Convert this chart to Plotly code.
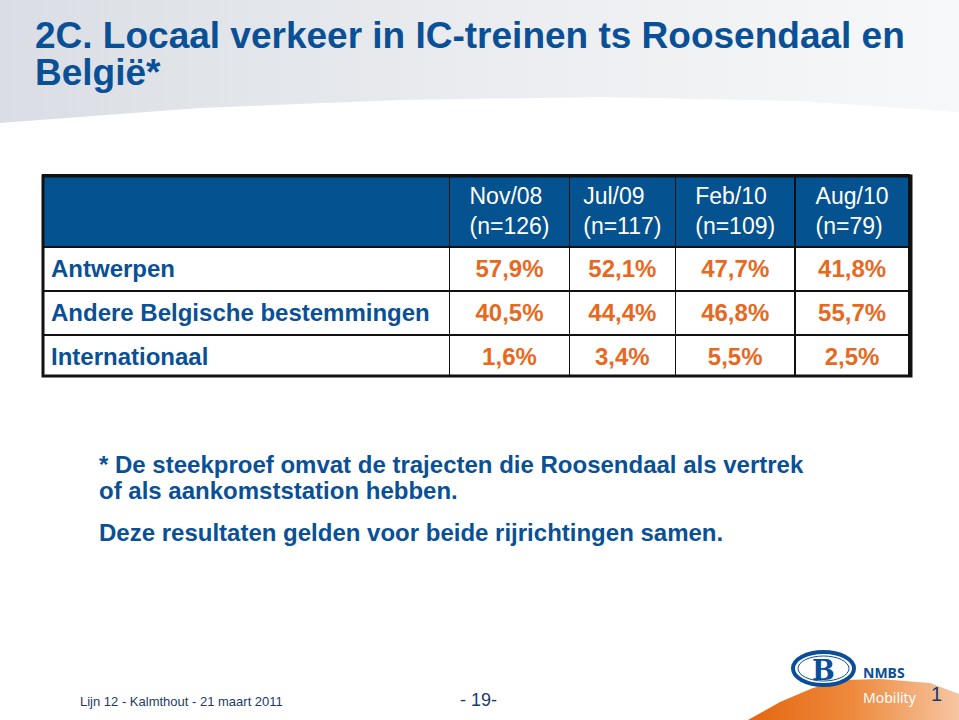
import plotly.graph_objects as go

# table data
destinations = ["Antwerpen", "Andere Belgische bestemmingen", "Internationaal"]
periods = ["Nov/08", "Jul/09", "Feb/10", "Aug/10"]
sample_n = [126, 117, 109, 79]
nov08 = [57.9, 40.5, 1.6]
jul09 = [52.1, 44.4, 3.4]
feb10 = [47.7, 46.8, 5.5]
aug10 = [41.8, 55.7, 2.5]

title_lines = ["2C. Locaal verkeer in IC-treinen ts Roosendaal en", "België*"]
note_lines = ["* De steekproef omvat de trajecten die Roosendaal als vertrek",
              "of als aankomststation hebben.",
              "Deze resultaten gelden voor beide rijrichtingen samen."]
footer_left = "Lijn 12 - Kalmthout - 21 maart 2011"
page_no = "- 19-"

BLUE = "#0A5096"
HEAD = "#04528F"
ORANGE = "#E8691E"
W, H = 959, 720


def pct(v):
    return "<b>" + f"{v:.1f}".replace(".", ",") + "%</b>"


header_vals = [""] + [f"{p}<br>(n={n})" for p, n in zip(periods, sample_n)]
cell_vals = [["<b>" + d + "</b>" for d in destinations]] + \
    [[pct(v) for v in col] for col in (nov08, jul09, feb10, aug10)]

fig = go.Figure()

# grey band at the top of the slide
band_x = [0, 959, 959, 800, 600, 400, 200, 0]
band_y = [0, 0, 112, 101, 97, 100, 108, 123]
fig.add_trace(go.Scatter(
    x=band_x, y=band_y, mode="lines", fill="toself", line=dict(width=0),
    fillgradient=dict(type="horizontal",
                      colorscale=[[0, "#dadee4"], [0.5, "#eaecef"], [1, "#f7f8f9"]]),
    hoverinfo="skip", showlegend=False))

# orange swoosh bottom right
sw_x = [748, 780, 813, 847, 880, 930, 959, 959]
sw_y = [720, 702, 688, 680, 679, 683, 694, 720]
fig.add_trace(go.Scatter(
    x=sw_x, y=sw_y, mode="lines", fill="toself", line=dict(width=0),
    fillgradient=dict(type="horizontal",
                      colorscale=[[0, "#E4660F"], [0.5, "#EE8A3E"], [1, "#F6C6A2"]]),
    hoverinfo="skip", showlegend=False))

fig.add_trace(go.Table(
    domain=dict(x=[43 / W, 910 / W], y=[1 - 376 / H, 1 - 175 / H]),
    columnwidth=[407, 120, 106, 120, 114],
    header=dict(values=header_vals, fill_color=HEAD, height=67,
                align="center", line=dict(color="#111111", width=1.5),
                font=dict(family="Liberation Sans", size=23, color="white")),
    cells=dict(values=cell_vals, fill_color="white", height=44,
               align=["left", "center", "center", "center", "center"],
               line=dict(color="#111111", width=1.5),
               font=dict(family="Liberation Sans", size=24,
                         color=[BLUE, ORANGE, ORANGE, ORANGE, ORANGE])),
))

shapes = [
    dict(type="rect", xref="x", yref="y", x0=43, x1=911, y0=176, y1=376,
         line=dict(color="#111111", width=3)),
    # NMBS logo oval
    dict(type="circle", xref="x", yref="y", x0=793, x1=854, y0=652, y1=685,
         fillcolor="white", line=dict(color="#0A4E9A", width=4)),
    dict(type="circle", xref="x", yref="y", x0=798, x1=849, y0=656, y1=681,
         line=dict(color="#0A4E9A", width=1)),
]

ann = [
    dict(x=33, y=35, text="<b>" + title_lines[0] + "</b>", xanchor="left",
         yanchor="middle", font=dict(family="Liberation Sans", size=37, color=BLUE)),
    dict(x=33, y=72, text="<b>" + title_lines[1] + "</b>", xanchor="left",
         yanchor="middle", font=dict(family="Liberation Sans", size=37, color=BLUE)),
    dict(x=97, y=464, text="<b>" + note_lines[0] + "</b>", xanchor="left",
         yanchor="middle", font=dict(family="Liberation Sans", size=24, color=BLUE)),
    dict(x=97, y=490, text="<b>" + note_lines[1] + "</b>", xanchor="left",
         yanchor="middle", font=dict(family="Liberation Sans", size=24, color=BLUE)),
    dict(x=97, y=532, text="<b>" + note_lines[2] + "</b>", xanchor="left",
         yanchor="middle", font=dict(family="Liberation Sans", size=24, color=BLUE)),
    dict(x=78, y=701, text=footer_left, xanchor="left", yanchor="middle",
         font=dict(family="Liberation Sans", size=13, color="#1B3A6B")),
    dict(x=458, y=700, text=page_no, xanchor="left", yanchor="middle",
         font=dict(family="Liberation Sans", size=18, color="#1B3A6B")),
    dict(x=823.5, y=670, text="<b>B</b>", xanchor="center", yanchor="middle",
         font=dict(family="DejaVu Serif", size=27, color="#0A4E9A")),
    dict(x=861, y=672, text="<b>NMBS</b>", xanchor="left", yanchor="middle",
         font=dict(family="Noto Sans", size=14, color="#0A4E9A")),
    dict(x=861, y=697, text="Mobility", xanchor="left", yanchor="middle",
         font=dict(family="Noto Sans", size=14, color="white")),
    dict(x=936, y=694, text="1", xanchor="center", yanchor="middle",
         font=dict(family="Liberation Sans", size=20, color="#1B3A6B")),
]
for a in ann:
    a.update(xref="x", yref="y", showarrow=False)

fig.update_layout(
    width=W, height=H,
    margin=dict(l=0, r=0, t=0, b=0),
    paper_bgcolor="white", plot_bgcolor="rgba(0,0,0,0)",
    xaxis=dict(range=[0, W], visible=False, fixedrange=True, domain=[0, 1]),
    yaxis=dict(range=[H, 0], visible=False, fixedrange=True, domain=[0, 1]),
    shapes=shapes, annotations=ann, showlegend=False,
)

fig.write_html("out.html", config={"displayModeBar": False},
               post_script="document.body.style.margin='0';")
